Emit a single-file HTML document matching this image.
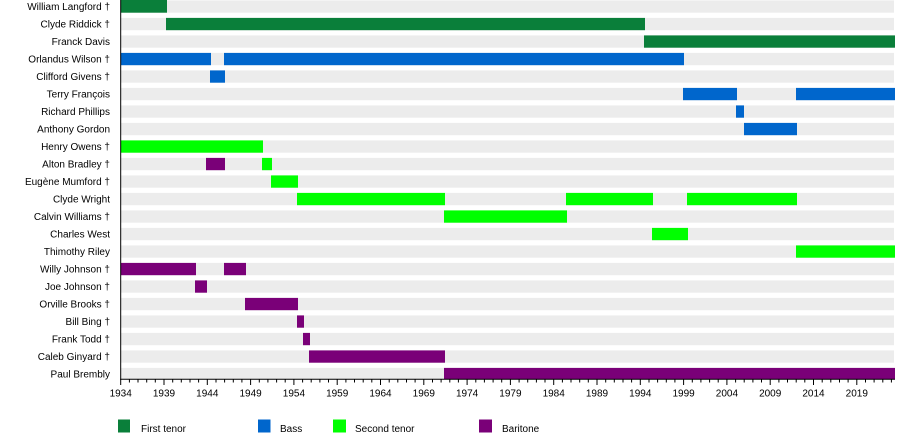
<!DOCTYPE html>
<html><head><meta charset="utf-8"><style>
html,body{margin:0;padding:0;background:#fff;}
svg{display:block;}
text{font-family:"Liberation Sans",Arial,sans-serif;font-size:10px;fill:#000;}
</style></head><body>
<svg width="900" height="448" viewBox="0 0 900 448" xmlns="http://www.w3.org/2000/svg">
<g id="bg" fill="#ececec">
<rect x="121" y="0.4" width="773" height="12.3"/>
<rect x="121" y="17.9" width="773" height="12.3"/>
<rect x="121" y="35.4" width="773" height="12.3"/>
<rect x="121" y="52.9" width="773" height="12.3"/>
<rect x="121" y="70.4" width="773" height="12.3"/>
<rect x="121" y="87.9" width="773" height="12.3"/>
<rect x="121" y="105.4" width="773" height="12.3"/>
<rect x="121" y="122.9" width="773" height="12.3"/>
<rect x="121" y="140.4" width="773" height="12.3"/>
<rect x="121" y="157.9" width="773" height="12.3"/>
<rect x="121" y="175.4" width="773" height="12.3"/>
<rect x="121" y="192.9" width="773" height="12.3"/>
<rect x="121" y="210.4" width="773" height="12.3"/>
<rect x="121" y="227.9" width="773" height="12.3"/>
<rect x="121" y="245.4" width="773" height="12.3"/>
<rect x="121" y="262.9" width="773" height="12.3"/>
<rect x="121" y="280.4" width="773" height="12.3"/>
<rect x="121" y="297.9" width="773" height="12.3"/>
<rect x="121" y="315.4" width="773" height="12.3"/>
<rect x="121" y="332.9" width="773" height="12.3"/>
<rect x="121" y="350.4" width="773" height="12.3"/>
<rect x="121" y="367.9" width="773" height="11.3"/>
</g>
<g fill="#0a7f3a">
<rect x="121" y="0" width="46" height="12.7"/>
<rect x="166" y="17.9" width="479" height="12.3"/>
<rect x="644" y="35.4" width="251" height="12.3"/>
</g>
<g fill="#0066cc">
<rect x="121" y="52.9" width="90" height="12.3"/>
<rect x="224" y="52.9" width="460" height="12.3"/>
<rect x="210" y="70.4" width="15" height="12.3"/>
<rect x="683" y="87.9" width="54" height="12.3"/>
<rect x="796" y="87.9" width="99" height="12.3"/>
<rect x="736" y="105.4" width="8" height="12.3"/>
<rect x="744" y="122.9" width="53" height="12.3"/>
</g>
<g fill="#00ff00">
<rect x="121" y="140.4" width="142" height="12.3"/>
<rect x="262" y="157.9" width="10" height="12.3"/>
<rect x="271" y="175.4" width="27" height="12.3"/>
<rect x="297" y="192.9" width="148" height="12.3"/>
<rect x="566" y="192.9" width="87" height="12.3"/>
<rect x="687" y="192.9" width="110" height="12.3"/>
<rect x="444" y="210.4" width="123" height="12.3"/>
<rect x="652" y="227.9" width="36" height="12.3"/>
<rect x="796" y="245.4" width="99" height="12.3"/>
</g>
<g fill="#7a0078">
<rect x="206" y="157.9" width="19" height="12.3"/>
<rect x="121" y="262.9" width="75" height="12.3"/>
<rect x="224" y="262.9" width="22" height="12.3"/>
<rect x="195" y="280.4" width="12" height="12.3"/>
<rect x="245" y="297.9" width="53" height="12.3"/>
<rect x="297" y="315.4" width="7" height="12.3"/>
<rect x="303" y="332.9" width="7" height="12.3"/>
<rect x="309" y="350.4" width="136" height="12.3"/>
<rect x="444" y="367.9" width="451" height="11.3"/>
</g>
<g text-anchor="end">
<text x="110" y="10">William Langford †</text>
<text x="110" y="27.5">Clyde Riddick †</text>
<text x="110" y="45">Franck Davis</text>
<text x="110" y="62.5">Orlandus Wilson †</text>
<text x="110" y="80">Clifford Givens †</text>
<text x="110" y="97.5">Terry François</text>
<text x="110" y="115">Richard Phillips</text>
<text x="110" y="132.5">Anthony Gordon</text>
<text x="110" y="150">Henry Owens †</text>
<text x="110" y="167.5">Alton Bradley †</text>
<text x="110" y="185">Eugène Mumford †</text>
<text x="110" y="202.5">Clyde Wright</text>
<text x="110" y="220">Calvin Williams †</text>
<text x="110" y="237.5">Charles West</text>
<text x="110" y="255">Thimothy Riley</text>
<text x="110" y="272.5">Willy Johnson †</text>
<text x="110" y="290">Joe Johnson †</text>
<text x="110" y="307.5">Orville Brooks †</text>
<text x="110" y="325">Bill Bing †</text>
<text x="110" y="342.5">Frank Todd †</text>
<text x="110" y="360">Caleb Ginyard †</text>
<text x="110" y="377.5">Paul Brembly</text>
</g>
<line x1="120.7" y1="0" x2="120.7" y2="379.8" stroke="#000" stroke-width="1"/>
<line x1="120.2" y1="379.3" x2="895" y2="379.3" stroke="#000" stroke-width="1"/>
<g id="ticks" stroke="#000" stroke-width="1"></g>
<g id="ticklabels" text-anchor="middle"></g>
<g>
<rect x="118" y="419.5" width="12" height="13" fill="#0a7f3a"/>
<text x="141" y="432">First tenor</text>
<rect x="258" y="419.5" width="12.5" height="13" fill="#0066cc"/>
<text x="280" y="432">Bass</text>
<rect x="333" y="419.5" width="13" height="13" fill="#00ff00"/>
<text x="355" y="432">Second tenor</text>
<rect x="479" y="419.5" width="13" height="13" fill="#7a0078"/>
<text x="502" y="432">Baritone</text>
</g>
<g stroke="#000" stroke-width="1">
<line x1="120.7" y1="379" x2="120.7" y2="385"/><line x1="129.4" y1="379" x2="129.4" y2="382.5"/><line x1="138.0" y1="379" x2="138.0" y2="382.5"/><line x1="146.7" y1="379" x2="146.7" y2="382.5"/><line x1="155.3" y1="379" x2="155.3" y2="382.5"/>
<line x1="164.0" y1="379" x2="164.0" y2="385"/><line x1="172.7" y1="379" x2="172.7" y2="382.5"/><line x1="181.3" y1="379" x2="181.3" y2="382.5"/><line x1="190.0" y1="379" x2="190.0" y2="382.5"/><line x1="198.6" y1="379" x2="198.6" y2="382.5"/>
<line x1="207.3" y1="379" x2="207.3" y2="385"/><line x1="216.0" y1="379" x2="216.0" y2="382.5"/><line x1="224.6" y1="379" x2="224.6" y2="382.5"/><line x1="233.3" y1="379" x2="233.3" y2="382.5"/><line x1="241.9" y1="379" x2="241.9" y2="382.5"/>
<line x1="250.6" y1="379" x2="250.6" y2="385"/><line x1="259.3" y1="379" x2="259.3" y2="382.5"/><line x1="267.9" y1="379" x2="267.9" y2="382.5"/><line x1="276.6" y1="379" x2="276.6" y2="382.5"/><line x1="285.2" y1="379" x2="285.2" y2="382.5"/>
<line x1="293.9" y1="379" x2="293.9" y2="385"/><line x1="302.6" y1="379" x2="302.6" y2="382.5"/><line x1="311.2" y1="379" x2="311.2" y2="382.5"/><line x1="319.9" y1="379" x2="319.9" y2="382.5"/><line x1="328.5" y1="379" x2="328.5" y2="382.5"/>
<line x1="337.2" y1="379" x2="337.2" y2="385"/><line x1="345.9" y1="379" x2="345.9" y2="382.5"/><line x1="354.5" y1="379" x2="354.5" y2="382.5"/><line x1="363.2" y1="379" x2="363.2" y2="382.5"/><line x1="371.8" y1="379" x2="371.8" y2="382.5"/>
<line x1="380.5" y1="379" x2="380.5" y2="385"/><line x1="389.2" y1="379" x2="389.2" y2="382.5"/><line x1="397.8" y1="379" x2="397.8" y2="382.5"/><line x1="406.5" y1="379" x2="406.5" y2="382.5"/><line x1="415.1" y1="379" x2="415.1" y2="382.5"/>
<line x1="423.8" y1="379" x2="423.8" y2="385"/><line x1="432.5" y1="379" x2="432.5" y2="382.5"/><line x1="441.1" y1="379" x2="441.1" y2="382.5"/><line x1="449.8" y1="379" x2="449.8" y2="382.5"/><line x1="458.4" y1="379" x2="458.4" y2="382.5"/>
<line x1="467.1" y1="379" x2="467.1" y2="385"/><line x1="475.8" y1="379" x2="475.8" y2="382.5"/><line x1="484.4" y1="379" x2="484.4" y2="382.5"/><line x1="493.1" y1="379" x2="493.1" y2="382.5"/><line x1="501.7" y1="379" x2="501.7" y2="382.5"/>
<line x1="510.4" y1="379" x2="510.4" y2="385"/><line x1="519.1" y1="379" x2="519.1" y2="382.5"/><line x1="527.7" y1="379" x2="527.7" y2="382.5"/><line x1="536.4" y1="379" x2="536.4" y2="382.5"/><line x1="545.0" y1="379" x2="545.0" y2="382.5"/>
<line x1="553.7" y1="379" x2="553.7" y2="385"/><line x1="562.4" y1="379" x2="562.4" y2="382.5"/><line x1="571.0" y1="379" x2="571.0" y2="382.5"/><line x1="579.7" y1="379" x2="579.7" y2="382.5"/><line x1="588.3" y1="379" x2="588.3" y2="382.5"/>
<line x1="597.0" y1="379" x2="597.0" y2="385"/><line x1="605.7" y1="379" x2="605.7" y2="382.5"/><line x1="614.3" y1="379" x2="614.3" y2="382.5"/><line x1="623.0" y1="379" x2="623.0" y2="382.5"/><line x1="631.6" y1="379" x2="631.6" y2="382.5"/>
<line x1="640.3" y1="379" x2="640.3" y2="385"/><line x1="649.0" y1="379" x2="649.0" y2="382.5"/><line x1="657.6" y1="379" x2="657.6" y2="382.5"/><line x1="666.3" y1="379" x2="666.3" y2="382.5"/><line x1="674.9" y1="379" x2="674.9" y2="382.5"/>
<line x1="683.6" y1="379" x2="683.6" y2="385"/><line x1="692.3" y1="379" x2="692.3" y2="382.5"/><line x1="700.9" y1="379" x2="700.9" y2="382.5"/><line x1="709.6" y1="379" x2="709.6" y2="382.5"/><line x1="718.2" y1="379" x2="718.2" y2="382.5"/>
<line x1="726.9" y1="379" x2="726.9" y2="385"/><line x1="735.6" y1="379" x2="735.6" y2="382.5"/><line x1="744.2" y1="379" x2="744.2" y2="382.5"/><line x1="752.9" y1="379" x2="752.9" y2="382.5"/><line x1="761.5" y1="379" x2="761.5" y2="382.5"/>
<line x1="770.2" y1="379" x2="770.2" y2="385"/><line x1="778.9" y1="379" x2="778.9" y2="382.5"/><line x1="787.5" y1="379" x2="787.5" y2="382.5"/><line x1="796.2" y1="379" x2="796.2" y2="382.5"/><line x1="804.8" y1="379" x2="804.8" y2="382.5"/>
<line x1="813.5" y1="379" x2="813.5" y2="385"/><line x1="822.2" y1="379" x2="822.2" y2="382.5"/><line x1="830.8" y1="379" x2="830.8" y2="382.5"/><line x1="839.5" y1="379" x2="839.5" y2="382.5"/><line x1="848.1" y1="379" x2="848.1" y2="382.5"/>
<line x1="856.8" y1="379" x2="856.8" y2="385"/><line x1="865.5" y1="379" x2="865.5" y2="382.5"/><line x1="874.1" y1="379" x2="874.1" y2="382.5"/><line x1="882.8" y1="379" x2="882.8" y2="382.5"/><line x1="891.4" y1="379" x2="891.4" y2="382.5"/>
</g>
<g text-anchor="middle">
<text x="120.7" y="396.5">1934</text>
<text x="164.0" y="396.5">1939</text>
<text x="207.3" y="396.5">1944</text>
<text x="250.6" y="396.5">1949</text>
<text x="293.9" y="396.5">1954</text>
<text x="337.2" y="396.5">1959</text>
<text x="380.5" y="396.5">1964</text>
<text x="423.8" y="396.5">1969</text>
<text x="467.1" y="396.5">1974</text>
<text x="510.4" y="396.5">1979</text>
<text x="553.7" y="396.5">1984</text>
<text x="597.0" y="396.5">1989</text>
<text x="640.3" y="396.5">1994</text>
<text x="683.6" y="396.5">1999</text>
<text x="726.9" y="396.5">2004</text>
<text x="770.2" y="396.5">2009</text>
<text x="813.5" y="396.5">2014</text>
<text x="856.8" y="396.5">2019</text>
</g>
</svg>
</body></html>
